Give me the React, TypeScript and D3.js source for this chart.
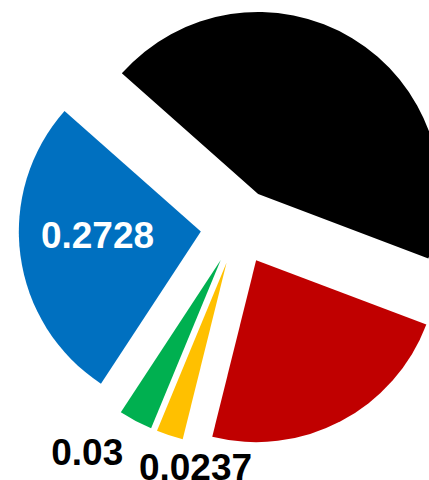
import React from "react";
import * as d3 from "d3";

const categories = ["A", "B", "C", "D", "E"];
const values = [0.4423, 0.2312, 0.0237, 0.03, 0.2728];
const labels = ["0.4423", "0.2312", "0.0237", "0.03", "0.2728"];
const colors = ["#000000", "#C00000", "#FFC000", "#00B050", "#0070C0"];
const showLabel = [false, false, true, true, true];
const labelColors = ["#000000", "#000000", "#000000", "#000000", "#FFFFFF"];

const W = 429;
const H = 480;
const cx = 238.5;
const cy = 226.5;
const R = 182;
const explode = 38;
const startDeg = -48.5;
// label layout: distance from pie centre and angular nudge (degrees)
const labelLayout = [
  { r: 120, shift: 0 },
  { r: 120, shift: 0 },
  { r: 244.6, shift: -8.1 },
  { r: 272, shift: 5.9 },
  { r: 141.3, shift: 4.0 },
];

export default function App() {
  const rad = Math.PI / 180;
  const pie = d3
    .pie<number>()
    .sort(null)
    .value((d) => d)
    .startAngle(startDeg * rad)
    .endAngle(startDeg * rad + 2 * Math.PI);
  const arcs = pie(values);
  const arcGen = d3.arc<d3.PieArcDatum<number>>().innerRadius(0).outerRadius(R);

  return (
    <svg
      width={W}
      height={H}
      style={{ position: "absolute", left: 0, top: 0, background: "#fff" }}
    >
      <g transform={`translate(${cx},${cy})`}>
        {arcs.map((a, i) => {
          const mid = (a.startAngle + a.endAngle) / 2;
          const dx = explode * Math.sin(mid);
          const dy = -explode * Math.cos(mid);
          return (
            <path
              key={categories[i]}
              d={arcGen(a) || ""}
              transform={`translate(${dx},${dy})`}
              fill={colors[i]}
            />
          );
        })}
        {arcs.map((a, i) => {
          if (!showLabel[i]) return null;
          const mid = (a.startAngle + a.endAngle) / 2 + labelLayout[i].shift * rad;
          const lx = labelLayout[i].r * Math.sin(mid);
          const ly = -labelLayout[i].r * Math.cos(mid);
          return (
            <text
              key={"l" + categories[i]}
              x={lx}
              y={ly + 12.5}
              textAnchor="middle"
              fill={labelColors[i]}
              fontFamily="'Liberation Sans', Arial, sans-serif"
              fontWeight="bold"
              fontSize={37}
            >
              {labels[i]}
            </text>
          );
        })}
      </g>
    </svg>
  );
}
